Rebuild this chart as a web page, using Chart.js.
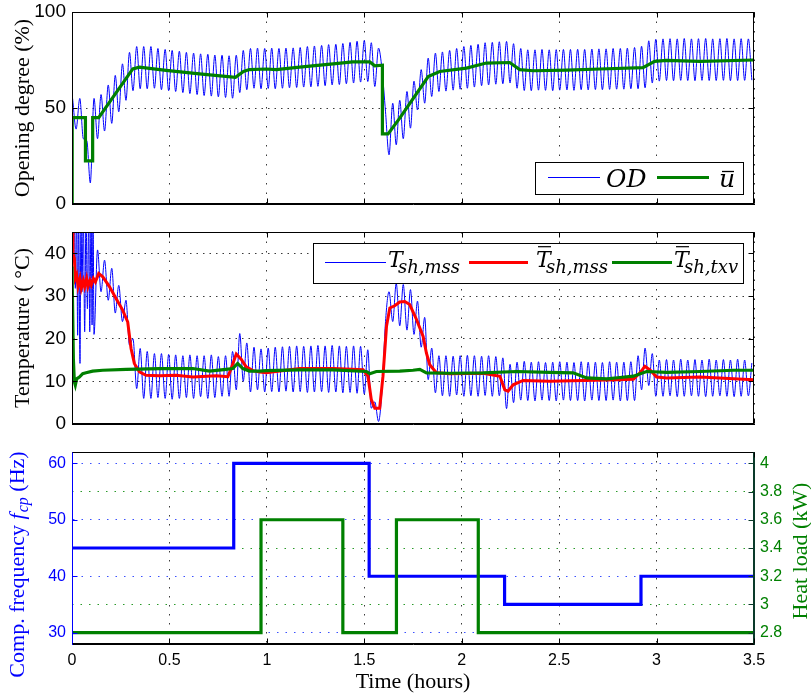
<!DOCTYPE html>
<html>
<head>
<meta charset="utf-8">
<script src="https://cdn.jsdelivr.net/npm/chart.js@4/dist/chart.umd.min.js"></script>
<style>
html,body{margin:0;padding:0;background:#fff;}
#wrap{position:relative;width:811px;height:696px;overflow:hidden;background:#fff;}
#wrap canvas{position:absolute;left:0;}
</style>
</head>
<body>
<div id="wrap">
<canvas id="c1" width="811" height="220" style="top:0px;width:811px;height:220px"></canvas>
<canvas id="c2" width="811" height="220" style="top:220px;width:811px;height:220px"></canvas>
<canvas id="c3" width="811" height="256" style="top:440px;width:811px;height:256px"></canvas>
</div>
<script>
// ---------------- tick definitions ----------------
const xTicks = [0, 0.5, 1, 1.5, 2, 2.5, 3, 3.5];
const xTickLabels = ['0', '0.5', '1', '1.5', '2', '2.5', '3', '3.5'];
const odTicks = [0, 50, 100];
const tempTicks = [0, 10, 20, 30, 40];
const fcpTicks = [30, 40, 50, 60];
const loadTicks = [2.8, 3, 3.2, 3.4, 3.6, 3.8, 4];
const loadTickLabels = ['2.8', '3', '3.2', '3.4', '3.6', '3.8', '4'];

// ---------------- panel 1: opening degree ----------------
const odTime = [
0.003,0.021,0.040,0.058,0.076,0.094,0.113,0.131,0.149,0.167,0.186,0.204,0.222,0.240,0.259,0.277,0.295,0.313,0.332,0.350,
0.368,0.386,0.405,0.423,0.441,0.459,0.478,0.496,0.514,0.532,0.551,0.569,0.587,0.605,0.624,0.642,0.660,0.678,0.697,0.715,
0.733,0.751,0.770,0.788,0.806,0.824,0.843,0.861,0.879,0.897,0.916,0.934,0.952,0.970,0.989,1.007,1.025,1.043,1.062,1.080,
1.098,1.116,1.135,1.153,1.171,1.189,1.208,1.226,1.244,1.262,1.281,1.299,1.317,1.335,1.354,1.372,1.390,1.408,1.427,1.445,
1.463,1.481,1.500,1.518,1.536,1.554,1.573,1.591,1.609,1.627,1.646,1.664,1.682,1.700,1.719,1.737,1.755,1.773,1.792,1.810,
1.828,1.846,1.865,1.883,1.901,1.919,1.938,1.956,1.974,1.992,2.011,2.029,2.047,2.065,2.084,2.102,2.120,2.138,2.157,2.175,
2.193,2.211,2.230,2.248,2.266,2.284,2.303,2.321,2.339,2.357,2.376,2.394,2.412,2.430,2.449,2.467,2.485,2.503,2.522,2.540,
2.558,2.576,2.595,2.613,2.631,2.649,2.668,2.686,2.704,2.722,2.741,2.759,2.777,2.795,2.814,2.832,2.850,2.868,2.887,2.905,
2.923,2.941,2.960,2.978,2.996,3.014,3.033,3.051,3.069,3.087,3.106,3.124,3.142,3.160,3.179,3.197,3.215,3.233,3.252,3.270,
3.288,3.306,3.325,3.343,3.361,3.379,3.398,3.416,3.434,3.452,3.471,3.489];
const odValue = [
55,39, 55,34, 33,11, 55,34, 57,38, 62,42, 67,48, 73,54, 79,59, 82,60,
82,60, 82,60.3, 81,59.5, 80.5,59, 80,58.6, 79.6,58, 79,57.5, 78.6,57, 78.2,56.5, 78,56.2,
77.6,55.8, 77.5,55.5, 77.2,55.1, 77.5,58, 80,59.5, 81,60.3, 81.2,60, 81,60.2, 81.2,60, 81,60.3,
81.2,60.5, 81.3,60.7, 81.5,60.9, 82,61, 82.3,61.3, 82.6,61.6, 83,62, 83.2,62.2, 83.6,62.6, 84.2,63,
84.8,63.5, 85.2,63.8, 84,61.2, 81.2,70, 48,25.6, 52.5,30.8, 54,34, 58.6,39.5, 64,49, 70,52.5,
76,56, 78.6,58.6, 79.2,58.8, 80,59.3, 81,59.8, 82,60.3, 82.6,60.9, 83.2,61.6, 84,62, 84.2,62.4,
84.5,62.6, 84.7,63, 83.5,60.3, 81,59.1, 80.3,59, 80.3,59.3, 80.5,59.2, 80.3,59, 80.4,59.3, 80.5,59.4,
80.5,59.2, 80.6,59.5, 80.5,59.4, 80.7,59.6, 80.8,59.5, 80.8,59.7, 81,59.8, 81,59.8, 81.2,60, 81.5,60,
82.2,60.5, 85,63, 85.8,64, 86,64.3, 86.1,64.2, 86,64.4, 86.2,64.3, 86,64.2, 86.1,64.4, 86.2,64.3,
86,64.3, 86.1,64.4, 86.2,64.2, 86,64.3, 86.1,64.4, 86,64.5];
const ubarTime = [0.000,0.001,0.069,0.069,0.106,0.106,0.137,0.312,0.346,0.483,0.654,0.839,0.880,0.911,0.997,1.048,1.168,1.340,1.440,1.528,1.554,1.593,1.593,1.622,1.682,1.828,1.887,2.024,2.126,2.246,2.298,2.366,2.538,2.710,2.930,2.990,3.050,3.224,3.500];
const ubarValue = [0,45,45,22.5,22.5,45,45,70.4,71.3,69.6,67.8,66.0,69.0,70.0,70.3,70.0,71.3,73.0,74.0,74.0,72.0,72.3,36.5,36.5,44.7,66.4,69.0,70.8,73.4,73.7,70.0,69.4,69.7,70.3,71.0,74.3,74.8,74.3,75.0];

// ---------------- panel 2: superheat temperatures ----------------
const tshEarlyTime = [0.000,0.012,0.017,0.024,0.029,0.034,0.041,0.046,0.051,0.058,0.065,0.072,0.079,0.086,0.091,0.098,0.103,0.108];
const tshTime = tshEarlyTime.concat(odTime.slice(6));
const tshValue = [
44,50,31.8,50,20.8,50,14.2,50,31,50,21.6,50,27,50,21.6,50,23.2,50,
21,40.8, 31,38.4, 29,36.5, 26,32.5, 24,29, 18.5,20, 8.3,17.7,
6,17, 6,16.5, 6.2,16.5, 6,16.3, 5.8,16.2, 6,16, 6.2,16.2, 6,16, 6.4,16, 6,16.2,
6.2,15.8, 6.5,16, 6.5,17, 8,21.2, 10,19, 7.5,18, 8,17.6, 7.5,17.8, 7.6,18, 7.5,18.1,
7.7,18.2, 7.5,18.3, 7.6,18.2, 7.4,18.3, 7.5,18.4, 7.6,18.3, 7.4,18.4, 7.5,18.3, 7.3,18.2, 7.4,18.3,
7.2,18.2, 7,17.4, 3.7,5.2, 0.6,8, 24,31, 24,33, 23,32.7, 22,31.5, 21,28.8, 18,25,
10.4,17.8, 7.3,16, 6.6,16, 6.5,15.9, 6.8,16, 6.5,16.1, 6.6,16, 6.5,15.9, 6.7,16, 6.5,15.8,
6.6,15.5, 3.6,14, 5,14.5, 5.6,14.7, 5.5,14.5, 5.4,14.6, 5.6,14.4, 5.5,14.5, 5.4,14.6, 5.6,14.5,
5.5,14.4, 5.5,14.6, 5.4,14.5, 5.6,14.5, 5.5,14.4, 5.5,14.6, 5.6,14.5, 5.4,14.5, 5.5,14.6, 5.5,16,
8,17.8, 9,16.5, 6.5,15, 6.5,15.1, 6.6,15, 6.4,15.2, 6.5,15, 6.6,15.1, 6.5,15, 6.4,15.2,
6.5,15, 6.6,15.1, 6.5,15, 6.4,15.2, 6.5,15, 6.6,14.3];
const mssTime = [0.000,0.005,0.012,0.017,0.024,0.031,0.041,0.048,0.058,0.065,0.075,0.082,0.092,0.099,0.110,0.120,0.137,0.158,0.192,0.226,0.260,0.286,0.303,0.320,0.346,0.380,0.449,0.534,0.620,0.740,0.800,0.817,0.843,0.868,0.894,0.928,0.963,0.997,1.168,1.340,1.494,1.519,1.536,1.554,1.579,1.596,1.614,1.631,1.656,1.682,1.708,1.733,1.768,1.802,1.819,1.836,1.870,1.939,2.110,2.196,2.221,2.238,2.264,2.315,2.452,2.624,2.795,2.881,2.915,2.940,2.966,3.000,3.052,3.224,3.395,3.500];
const mssValue = [46,40,38.8,34.1,34.9,32.2,34.1,31.8,33.6,32.2,34.1,32.2,33.6,32.6,34.1,33.3,35.3,34.5,32.2,29.4,26.7,23.9,17.7,14.2,12.2,11.4,11.3,11.4,11.0,11.3,11.1,13.0,16.4,15.2,13.4,12.5,12.2,12.0,13.0,13.0,12.7,11.2,5.7,3.7,3.7,11.2,22.9,27.2,27.7,28.6,28.7,28.0,24.5,20.5,16.6,13.9,12.0,11.8,11.9,11.2,8.0,7.7,9.2,10.2,10.0,10.2,10.4,10.5,12.0,13.5,12.7,11.0,10.8,11.0,10.6,10.4];
const txvTime = [0.000,0.007,0.012,0.017,0.024,0.038,0.055,0.072,0.106,0.158,0.278,0.449,0.620,0.706,0.790,0.825,0.850,0.877,0.911,0.963,0.997,1.168,1.340,1.511,1.528,1.562,1.682,1.750,1.785,1.819,1.939,2.110,2.282,2.452,2.572,2.641,2.744,2.812,2.881,2.949,3.052,3.224,3.395,3.500];
const txvValue = [36.9,15.3,9.9,9.1,10.6,11.0,11.8,12.0,12.4,12.6,12.8,13.0,13.0,12.4,12.8,13.0,14.2,13.0,12.4,12.4,12.5,12.7,12.7,12.3,11.8,12.3,12.4,12.6,12.8,12.0,11.9,12.0,12.3,12.1,12.0,10.8,10.6,10.9,11.2,12.3,12.1,12.3,12.6,12.6];

// ---------------- panel 3: compressor frequency & heat load ----------------
const fcpTime = [0, 0.83, 1.525, 2.22, 2.92, 3.5];
const fcpValue = [45, 60, 40, 35, 40, 40];
const loadTime = [0, 0.97, 1.39, 1.665, 2.085, 3.5];
const loadValue = [2.8, 3.6, 2.8, 3.6, 2.8, 2.8];

// ---------------- helpers ----------------
const SERIF = '"Liberation Serif", "Times New Roman", serif';
const SANS = '"Liberation Sans", Arial, sans-serif';
const MATH = '"DejaVu Serif", serif';
const BLUE = '#0000ff', GREEN = '#008000', RED = '#ff0000';

function pts(t, v) { return t.map((x, i) => ({ x: x, y: v[i] })); }
function fixed(list) { return s => { s.ticks = list.map(v => ({ value: v })); }; }
function lab(list, labels) {
  return v => { const i = list.findIndex(a => Math.abs(a - v) < 1e-9); return i >= 0 ? labels[i] : ''; };
}
function fitV(w) { return s => { s.width = w; s.paddingTop = 0; s.paddingBottom = 0; }; }
function fitH(h) { return s => { s.height = h; s.paddingLeft = 0; s.paddingRight = 0; }; }
function seg(ctx, x1, y1, x2, y2, color, w) {
  ctx.strokeStyle = color; ctx.lineWidth = w || 1;
  ctx.beginPath(); ctx.moveTo(x1, y1); ctx.lineTo(x2, y2); ctx.stroke();
}
function drawSub(ctx, x, y, main, sub, bar) {
  ctx.font = 'italic 22px ' + MATH;
  ctx.fillStyle = '#000';
  ctx.textBaseline = 'alphabetic';
  ctx.textAlign = 'left';
  ctx.fillText(main, x, y);
  if (bar) seg(ctx, x + 2, y - 20.3, x + 15, y - 20.3, '#000', 1.2);
  ctx.font = 'italic 18px ' + MATH;
  ctx.fillStyle = '#000';
  ctx.fillText(sub, x + 10, y + 5.5);
}

// per-panel frame colours and overlays (legends, custom axis titles), keyed by canvas id
const frameStyle = {
  c1: { left: '#000', right: '#000', rightScale: 'y' },
  c2: { left: '#000', right: '#000', rightScale: 'y' },
  c3: { left: BLUE, right: '#0a3a2a', rightScale: 'y2' }
};
const overlays = {
  c1(ctx) {
    ctx.fillStyle = '#fff'; ctx.fillRect(535, 162, 208, 32);
    ctx.strokeStyle = '#000'; ctx.lineWidth = 1; ctx.strokeRect(535.5, 162.5, 208, 32);
    seg(ctx, 548, 177.5, 600, 177.5, BLUE, 1);
    ctx.fillStyle = '#000'; ctx.textBaseline = 'alphabetic'; ctx.textAlign = 'left';
    ctx.font = 'italic 25px ' + MATH;
    ctx.fillText('OD', 606, 187);
    seg(ctx, 657, 177.5, 709, 177.5, GREEN, 3.2);
    ctx.fillStyle = '#000';
    ctx.fillText('u', 719, 187);
    seg(ctx, 722, 171.5, 734, 171.5, '#000', 1.3);
  },
  c2(ctx) {
    ctx.fillStyle = '#fff'; ctx.fillRect(313, 23, 430, 40);
    ctx.strokeStyle = '#000'; ctx.lineWidth = 1; ctx.strokeRect(313.5, 23.5, 430, 40);
    seg(ctx, 325, 42.5, 386, 42.5, BLUE, 1);
    drawSub(ctx, 388, 47, 'T', 'sh,mss', false);
    seg(ctx, 469, 42.5, 528, 42.5, RED, 3);
    drawSub(ctx, 536, 47, 'T', 'sh,mss', true);
    seg(ctx, 612, 42.5, 672, 42.5, GREEN, 3.2);
    drawSub(ctx, 674, 47, 'T', 'sh,txv', true);
  },
  c3(ctx) {
    ctx.save();
    ctx.translate(18.5, 125);
    ctx.rotate(-Math.PI / 2);
    ctx.fillStyle = BLUE;
    ctx.textBaseline = 'middle';
    ctx.textAlign = 'left';
    const parts = [
      { t: 'Comp. frequency ', f: '22px ' + SERIF, dy: 0 },
      { t: 'f', f: 'italic 22px ' + SERIF, dy: 0 },
      { t: 'cp', f: 'italic 16px ' + SERIF, dy: 5 },
      { t: ' (Hz)', f: '22px ' + SERIF, dy: 0 }
    ];
    let total = 0;
    parts.forEach(p => { ctx.font = p.f; p.w = ctx.measureText(p.t).width; total += p.w; });
    let x = -total / 2;
    parts.forEach(p => { ctx.font = p.f; ctx.fillText(p.t, x, p.dy); x += p.w + (p.t === 'f' ? 1 : 0); });
    ctx.restore();
    ctx.save();
    ctx.translate(801, 111);
    ctx.rotate(-Math.PI / 2);
    ctx.fillStyle = GREEN;
    ctx.textBaseline = 'middle';
    ctx.textAlign = 'center';
    ctx.font = '22px ' + SERIF;
    ctx.fillText('Heat load (kW)', 0, 0);
    ctx.restore();
  }
};

const framePlugin = {
  id: 'frame',
  afterDraw(chart) {
    const id = chart.canvas.id;
    const o = frameStyle[id];
    const ctx = chart.ctx, a = chart.chartArea;
    const L = Math.round(a.left) + 0.5, R = Math.round(a.right) - 0.5;
    const T = Math.round(a.top) + 0.5, B = Math.round(a.bottom) - 0.5;
    ctx.save();
    ctx.setLineDash([]);
    const xs = chart.scales.x;
    xs.ticks.forEach(t => {
      const p = Math.round(xs.getPixelForValue(t.value)) + 0.5;
      seg(ctx, p, B, p, B - 5, '#000'); seg(ctx, p, T, p, T + 5, '#000');
    });
    const ys = chart.scales.y;
    ys.ticks.forEach(t => {
      const p = Math.round(ys.getPixelForValue(t.value)) + 0.5;
      seg(ctx, L, p, L + 5, p, o.left);
    });
    const rs = chart.scales[o.rightScale];
    rs.ticks.forEach(t => {
      const p = Math.round(rs.getPixelForValue(t.value)) + 0.5;
      seg(ctx, R, p, R - 5, p, o.right);
    });
    seg(ctx, L - 0.5, T, R + 0.5, T, '#000');
    seg(ctx, L - 0.5, B, R + 0.5, B, '#000');
    seg(ctx, L, T, L, B, o.left);
    seg(ctx, R, T, R, B, o.right);
    if (overlays[id]) overlays[id](ctx);
    ctx.restore();
  }
};
Chart.register(framePlugin);

function xScale(showLabels, h, dash) {
  return {
    type: 'linear', min: 0, max: 3.5,
    afterBuildTicks: fixed(xTicks),
    afterFit: fitH(h),
    ticks: { display: showLabels, callback: lab(xTicks, xTickLabels), font: { family: SANS, size: 16 }, color: '#000', padding: 7, maxRotation: 0, autoSkip: false },
    grid: { color: '#3a3a3a', lineWidth: 1, drawTicks: false },
    border: { display: true, color: '#000', width: 1, dash: dash },
    title: showLabels ? { display: true, text: 'Time (hours)', font: { family: SERIF, size: 22 }, color: '#000', padding: { top: 0, bottom: 1 } } : { display: false }
  };
}

const common = { responsive: false, animation: false, devicePixelRatio: 1, events: [] };

// ---------------- chart 1 ----------------
new Chart(document.getElementById('c1'), {
  type: 'line',
  data: { datasets: [
    { label: 'ubar', data: pts(ubarTime, ubarValue), borderColor: GREEN, borderWidth: 3.2, pointRadius: 0, tension: 0, fill: false },
    { label: 'OD', data: pts(odTime, odValue), borderColor: BLUE, borderWidth: 1, pointRadius: 0, cubicInterpolationMode: 'monotone', fill: false }
  ]},
  options: Object.assign({}, common, {
    layout: { padding: { top: 12, right: 57, left: 0, bottom: 0 } },
    scales: {
      x: xScale(false, 16, [1.5, 8]),
      y: {
        min: 0, max: 100,
        afterBuildTicks: fixed(odTicks),
        afterFit: fitV(72),
        ticks: { callback: lab(odTicks, ['0', '50', '100']), font: { family: SANS, size: 19 }, color: '#000', padding: 6 },
        grid: { color: '#3a3a3a', lineWidth: 1, drawTicks: false },
        border: { display: true, color: '#000', width: 1, dash: [1.5, 5] },
        title: { display: true, text: 'Opening degree (%)', font: { family: SERIF, size: 22 }, color: '#000', padding: { top: 10, bottom: 0 } }
      }
    },
    plugins: { legend: { display: false }, tooltip: { enabled: false } }
  })
});

// ---------------- chart 2 ----------------
new Chart(document.getElementById('c2'), {
  type: 'line',
  data: { datasets: [
    { label: 'txv', data: pts(txvTime, txvValue), borderColor: GREEN, borderWidth: 3.2, pointRadius: 0, tension: 0, fill: false },
    { label: 'mss', data: pts(mssTime, mssValue), borderColor: RED, borderWidth: 3, pointRadius: 0, tension: 0, fill: false },
    { label: 'Tsh', data: pts(tshTime, tshValue), borderColor: BLUE, borderWidth: 1, pointRadius: 0, cubicInterpolationMode: 'monotone', fill: false }
  ]},
  options: Object.assign({}, common, {
    layout: { padding: { top: 12, right: 57, left: 0, bottom: 0 } },
    scales: {
      x: xScale(false, 16, [1.5, 8]),
      y: {
        min: 0, max: 45,
        afterBuildTicks: fixed(tempTicks),
        afterFit: fitV(72),
        ticks: { callback: lab(tempTicks, ['0', '10', '20', '30', '40']), font: { family: SANS, size: 19 }, color: '#000', padding: 6 },
        grid: { color: '#3a3a3a', lineWidth: 1, drawTicks: false },
        border: { display: true, color: '#000', width: 1, dash: [1.5, 5] },
        title: { display: true, text: 'Temperature ( \u00B0C)', font: { family: SERIF, size: 22 }, color: '#000', padding: { top: 10, bottom: 0 } }
      }
    },
    plugins: { legend: { display: false }, tooltip: { enabled: false } }
  })
});

// ---------------- chart 3 ----------------
new Chart(document.getElementById('c3'), {
  type: 'line',
  data: { datasets: [
    { label: 'load', data: pts(loadTime, loadValue), yAxisID: 'y2', borderColor: GREEN, borderWidth: 3.2, pointRadius: 0, stepped: 'before', fill: false },
    { label: 'fcp', data: pts(fcpTime, fcpValue), yAxisID: 'y', borderColor: BLUE, borderWidth: 3.2, pointRadius: 0, stepped: 'before', fill: false }
  ]},
  options: Object.assign({}, common, {
    layout: { padding: { top: 12, right: 0, left: 0, bottom: 0 } },
    scales: {
      x: xScale(true, 52, [1.5, 7.5]),
      y: {
        position: 'left', min: 28, max: 62,
        afterBuildTicks: fixed(fcpTicks),
        afterFit: fitV(72),
        ticks: { callback: lab(fcpTicks, ['30', '40', '50', '60']), font: { family: SANS, size: 16 }, color: BLUE, padding: 6 },
        grid: { color: '#3a50ff', lineWidth: 1, drawTicks: false },
        border: { display: true, color: BLUE, width: 1, dash: [1.5, 7] },
        title: { display: false }
      },
      y2: {
        position: 'right', min: 2.72, max: 4.08,
        afterBuildTicks: fixed(loadTicks),
        afterFit: fitV(57),
        ticks: { callback: lab(loadTicks, loadTickLabels), font: { family: SANS, size: 16 }, color: GREEN, padding: 6 },
        grid: {
          drawTicks: false, lineWidth: 1,
          color: c => ([3, 3.4, 3.8].some(v => Math.abs(v - c.tick.value) < 1e-6) ? '#2a9a2a' : 'rgba(0,0,0,0)')
        },
        border: { display: true, color: '#0a3a2a', width: 1, dash: [1.5, 7] },
        title: { display: false }
      }
    },
    plugins: { legend: { display: false }, tooltip: { enabled: false } }
  })
});
</script>
</body>
</html>
